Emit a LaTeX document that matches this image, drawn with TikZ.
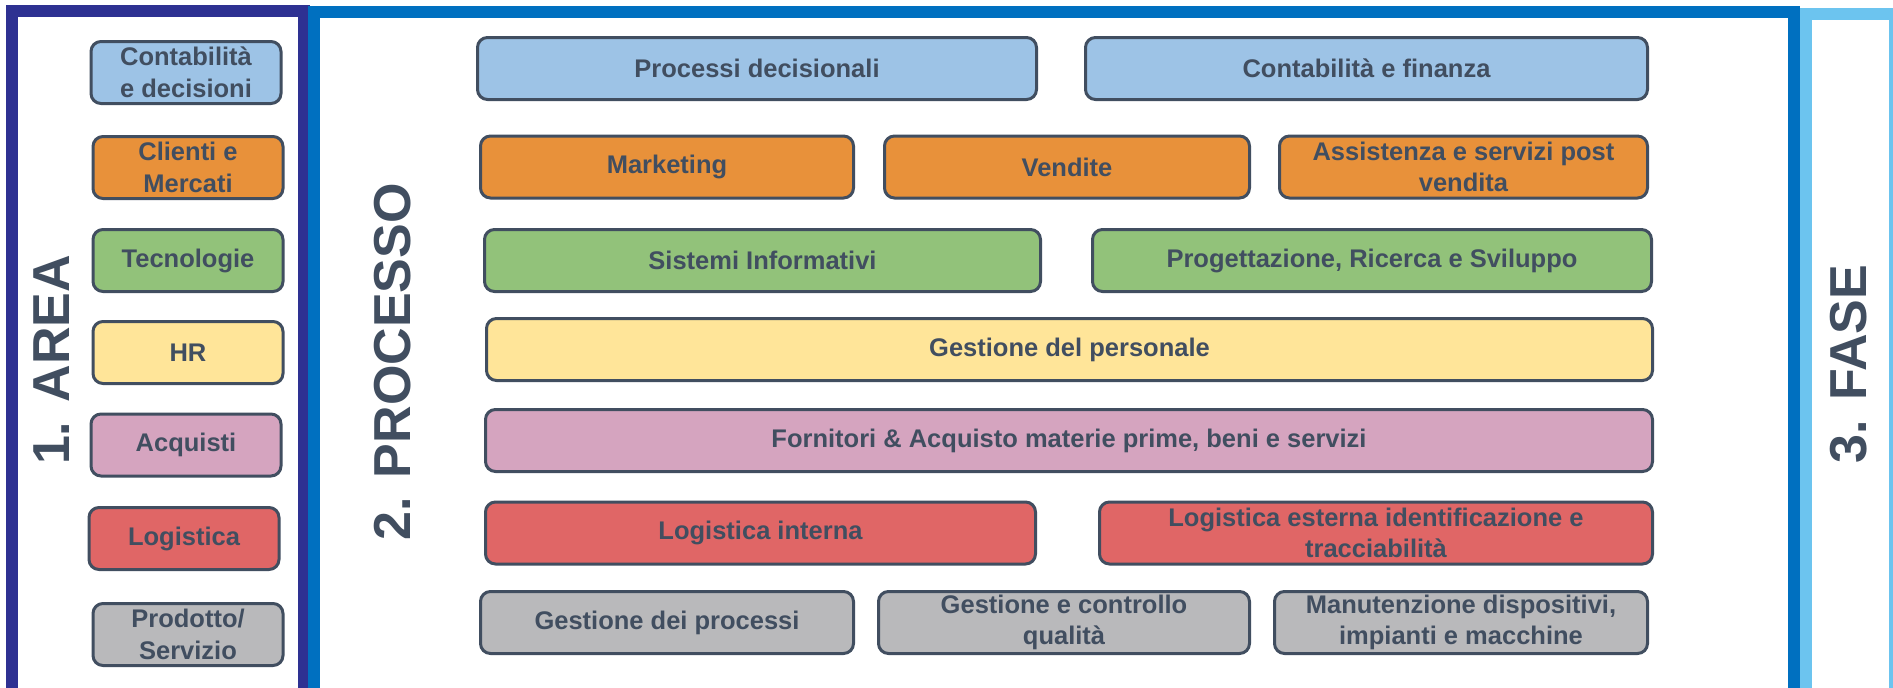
\documentclass[tikz,border=0pt]{standalone}
\usepackage{fontspec}
\setmainfont{Liberation Sans}
\usepackage{xcolor}
\usepackage{tikz}
\usetikzlibrary{positioning}
\definecolor{areablue}{HTML}{2E3192}
\definecolor{procblue}{HTML}{0070C0}
\definecolor{faseblue}{HTML}{6CC4EF}
\definecolor{boxline}{HTML}{414E60}
\definecolor{cblue}{HTML}{9DC3E6}
\definecolor{corange}{HTML}{E8913A}
\definecolor{cgreen}{HTML}{92C27A}
\definecolor{cyellow}{HTML}{FFE599}
\definecolor{cpink}{HTML}{D5A4BF}
\definecolor{cred}{HTML}{E06666}
\definecolor{cgrey}{HTML}{B9B9BB}
\tikzset{
    box/.style={draw=boxline, line width=3pt, rounded corners=10pt, text=boxline, align=center,
        inner sep=0pt, minimum height=62pt, font={\fontsize{25.5}{31.5}\selectfont\bfseries}},
    areabox/.style={box, minimum width=190pt},
    title/.style={rotate=90, text=boxline, font={\fontsize{52}{60}\selectfont\bfseries}}
}

\begin{document}
\begin{tikzpicture}[x=1pt, y=-1pt]
        \useasboundingbox (0,0) rectangle (1893,688);
        \fill[white] (0,0) rectangle (1893,688);
        \draw[areablue, line width=12pt] (12,10.5) rectangle (304,694);
        \draw[procblue, line width=12pt] (314,11.5) rectangle (1794,694);
        \draw[faseblue, line width=12pt] (1806,14) rectangle (1895,694);
        \node[title] (area) at (51.5,360) {1. AREA};
        \node[title] (processo) at (393,362) {2. PROCESSO};
        \node[title] (fase) at (1849,364) {3. FASE};
        \node[areabox, fill=cblue] (contab) at (186,72.5) {Contabilità\\e decisioni};
        \node[areabox, fill=corange] (clienti) at (188,167.5) {Clienti e\\Mercati};
        \node[areabox, fill=cgreen] (tecno) at (188,260.5) {Tecnologie};
        \node[areabox, fill=cyellow] (hr) at (188,352.5) {HR};
        \node[areabox, fill=cpink] (acquisti) at (186,445) {Acquisti};
        \node[areabox, fill=cred] (logistica) at (184,538.5) {Logistica};
        \node[areabox, fill=cgrey] (prodotto) at (188,634.5) {Prodotto/\\Servizio};
        \node[box, fill=cblue, minimum width=559pt] (decisionali) at (757,68.5) {Processi decisionali};
        \node[box, fill=cblue, minimum width=562pt] (finanza) at (1366.5,68.5) {Contabilità e finanza};
        \node[box, fill=corange, minimum width=373pt] (marketing) at (667,167) {Marketing};
        \node[box, fill=corange, minimum width=365pt] (vendite) at (1067,167) {Vendite};
        \node[box, fill=corange, minimum width=368pt] (assistenza) at (1463.5,167) {Assistenza e servizi post\\vendita};
        \node[box, fill=cgreen, minimum width=556pt] (sistemi) at (762.5,260.5) {Sistemi Informativi};
        \node[box, fill=cgreen, minimum width=559pt] (ricerca) at (1372,260.5) {Progettazione, Ricerca e Sviluppo};
        \node[box, fill=cyellow, minimum width=1166pt] (personale) at (1069.5,349.5) {Gestione del personale};
        \node[box, fill=cpink, minimum width=1167pt] (fornitori) at (1069,440.5) {Fornitori \& Acquisto materie prime, beni e servizi};
        \node[box, fill=cred, minimum width=550pt] (loginterna) at (760.5,533) {Logistica interna};
        \node[box, fill=cred, minimum width=553pt] (logesterna) at (1376,533) {Logistica esterna identificazione e\\tracciabilità};
        \node[box, fill=cgrey, minimum width=373pt] (gprocessi) at (667,622.5) {Gestione dei processi};
        \node[box, fill=cgrey, minimum width=371pt] (qualita) at (1064,622.5) {Gestione e controllo\\qualità};
        \node[box, fill=cgrey, minimum width=373pt] (manutenzione) at (1461,622.5) {Manutenzione dispositivi,\\impianti e macchine};
    \end{tikzpicture}
\end{document}
